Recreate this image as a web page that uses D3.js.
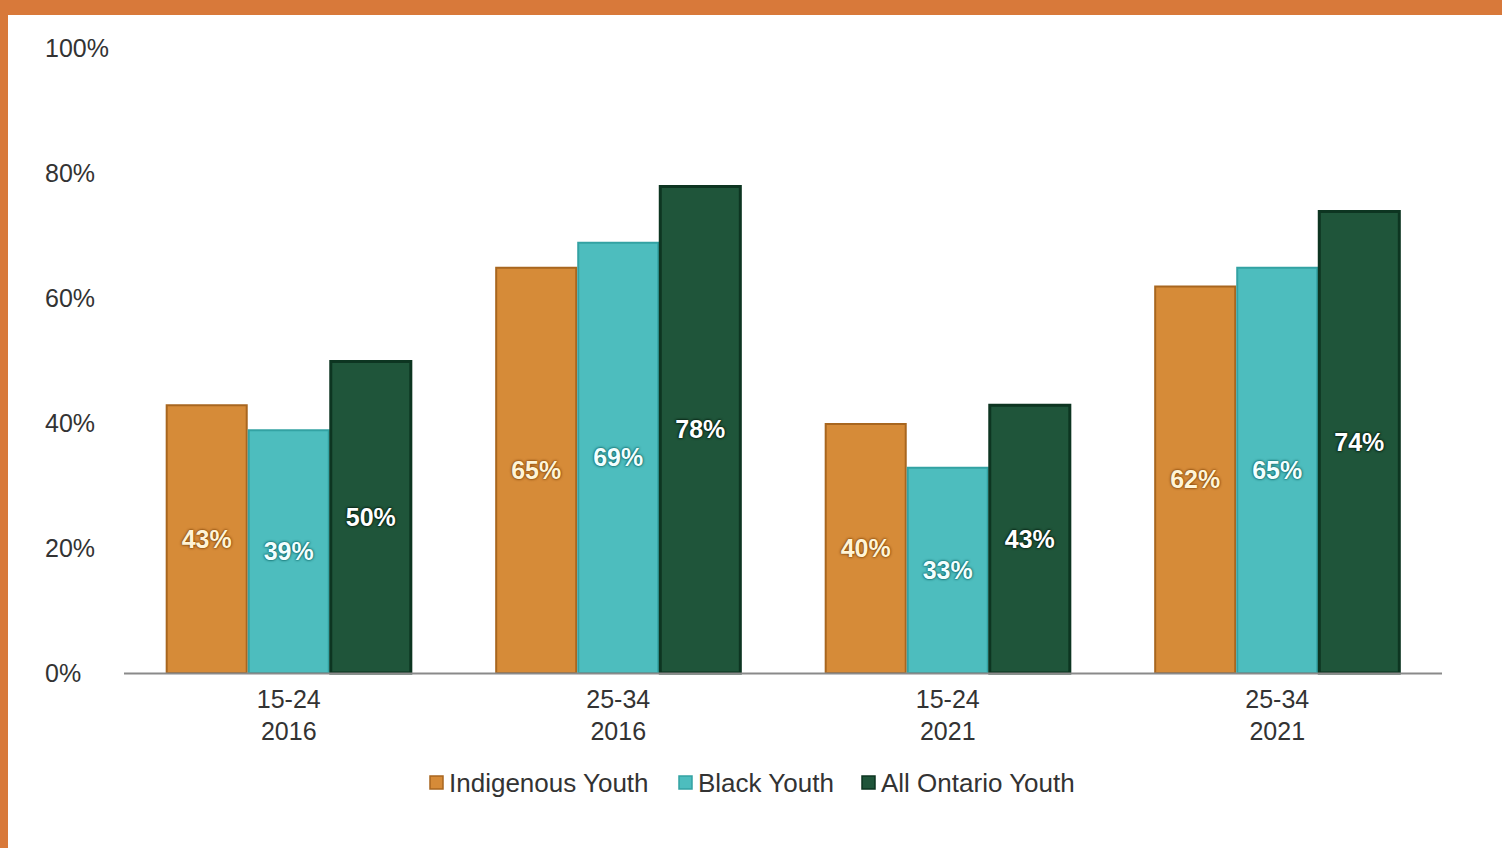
<!DOCTYPE html>
<html>
<head>
<meta charset="utf-8">
<script src="https://cdn.jsdelivr.net/npm/d3@7"></script>
<style>
  html, body { margin: 0; padding: 0; background: #fff; }
  svg { display: block; }
  text { font-family: "Liberation Sans", Arial, sans-serif; }
</style>
</head>
<body>
<svg id="chart" width="1502" height="848"></svg>
<script>
// Employment rate by age group and census year
const ageGroups = ["15-24", "25-34", "15-24", "25-34"];
const years = ["2016", "2016", "2021", "2021"];
const seriesNames = ["Indigenous Youth", "Black Youth", "All Ontario Youth"];
const indigenous = [43, 65, 40, 62];
const black = [39, 69, 33, 65];
const allOntario = [50, 78, 43, 74];
const yTicks = [0, 20, 40, 60, 80, 100];

const fills = ["#D68B38", "#4DBDBE", "#1F553A"];
const strokes = ["#A8661F", "#33A2A3", "#0D3521"];
const labelColors = ["#FFF4D6", "#F2FFFF", "#FFFFFF"];
const shadows = ["rgba(120,60,0,0.9)", "rgba(0,90,90,0.9)", "rgba(0,20,10,1)"];

const values = [indigenous, black, allOntario];
const groupKeys = ageGroups.map((a, i) => i);
const rows = groupKeys.map(i => ({ idx: i, age: ageGroups[i], year: years[i],
  vals: seriesNames.map((s, k) => ({ series: k, value: values[k][i] })) }));

const svg = d3.select("#chart");

// Frame
svg.append("rect").attr("x", 0).attr("y", 0).attr("width", 1502).attr("height", 15).attr("fill", "#D8793A");
svg.append("rect").attr("x", 0).attr("y", 0).attr("width", 8).attr("height", 848).attr("fill", "#D8793A");

const x0 = d3.scaleBand().domain(groupKeys).range([124, 1442]).paddingInner(0.253).paddingOuter(0.1265);
const x1 = d3.scaleBand().domain([0, 1, 2]).range([0, x0.bandwidth()]).padding(0);
const y = d3.scaleLinear().domain([0, 100]).range([673, 48]);

// Y tick labels
svg.append("g").selectAll("text").data(yTicks).join("text")
  .attr("x", 45).attr("y", d => y(d)).attr("dy", "0.36em")
  .attr("font-size", 25).attr("fill", "#333")
  .text(d => d + "%");

// Bars
const groups = svg.append("g").selectAll("g").data(rows).join("g")
  .attr("transform", d => `translate(${x0(d.idx)},0)`);

groups.selectAll("rect").data(d => d.vals).join("rect")
  .attr("x", d => x1(d.series) + 1)
  .attr("y", d => y(d.value) + 1)
  .attr("width", x1.bandwidth() - 2)
  .attr("height", d => y(0) - y(d.value) - 1)
  .attr("fill", d => fills[d.series])
  .attr("stroke", d => strokes[d.series])
  .attr("stroke-width", d => d.series === 2 ? 3 : 2);

// Value labels centred in each bar
groups.selectAll("text.val").data(d => d.vals).join("text")
  .attr("class", "val")
  .attr("x", d => x1(d.series) + x1.bandwidth() / 2)
  .attr("y", d => (y(d.value) + y(0)) / 2)
  .attr("dy", "0.36em")
  .attr("text-anchor", "middle")
  .attr("font-size", 25).attr("font-weight", "bold")
  .attr("fill", d => labelColors[d.series])
  .style("text-shadow", d => `0 0 3px ${shadows[d.series]}, 0 0 2px ${shadows[d.series]}`)
  .text(d => d.value + "%");

// X axis baseline
svg.append("line").attr("x1", 124).attr("x2", 1442).attr("y1", 673.5).attr("y2", 673.5)
  .attr("stroke", "#8a8a8a").attr("stroke-width", 2);

// Category labels
const cat = svg.append("g").selectAll("text").data(rows).join("text")
  .attr("x", d => x0(d.idx) + x0.bandwidth() / 2)
  .attr("text-anchor", "middle").attr("font-size", 25).attr("fill", "#333");
cat.append("tspan").attr("x", d => x0(d.idx) + x0.bandwidth() / 2).attr("y", 708).text(d => d.age);
cat.append("tspan").attr("x", d => x0(d.idx) + x0.bandwidth() / 2).attr("y", 740).text(d => d.year);

// Legend
const legendX = [430, 679, 862];
const leg = svg.append("g").selectAll("g").data(seriesNames).join("g")
  .attr("transform", (d, i) => `translate(${legendX[i]},776)`);
leg.append("rect").attr("width", 13).attr("height", 13)
  .attr("fill", (d, i) => fills[i]).attr("stroke", (d, i) => strokes[i]).attr("stroke-width", 1.5);
leg.append("text").attr("x", 19).attr("y", 7).attr("dy", "0.36em")
  .attr("font-size", 26).attr("fill", "#333").text(d => d);
</script>
</body>
</html>
